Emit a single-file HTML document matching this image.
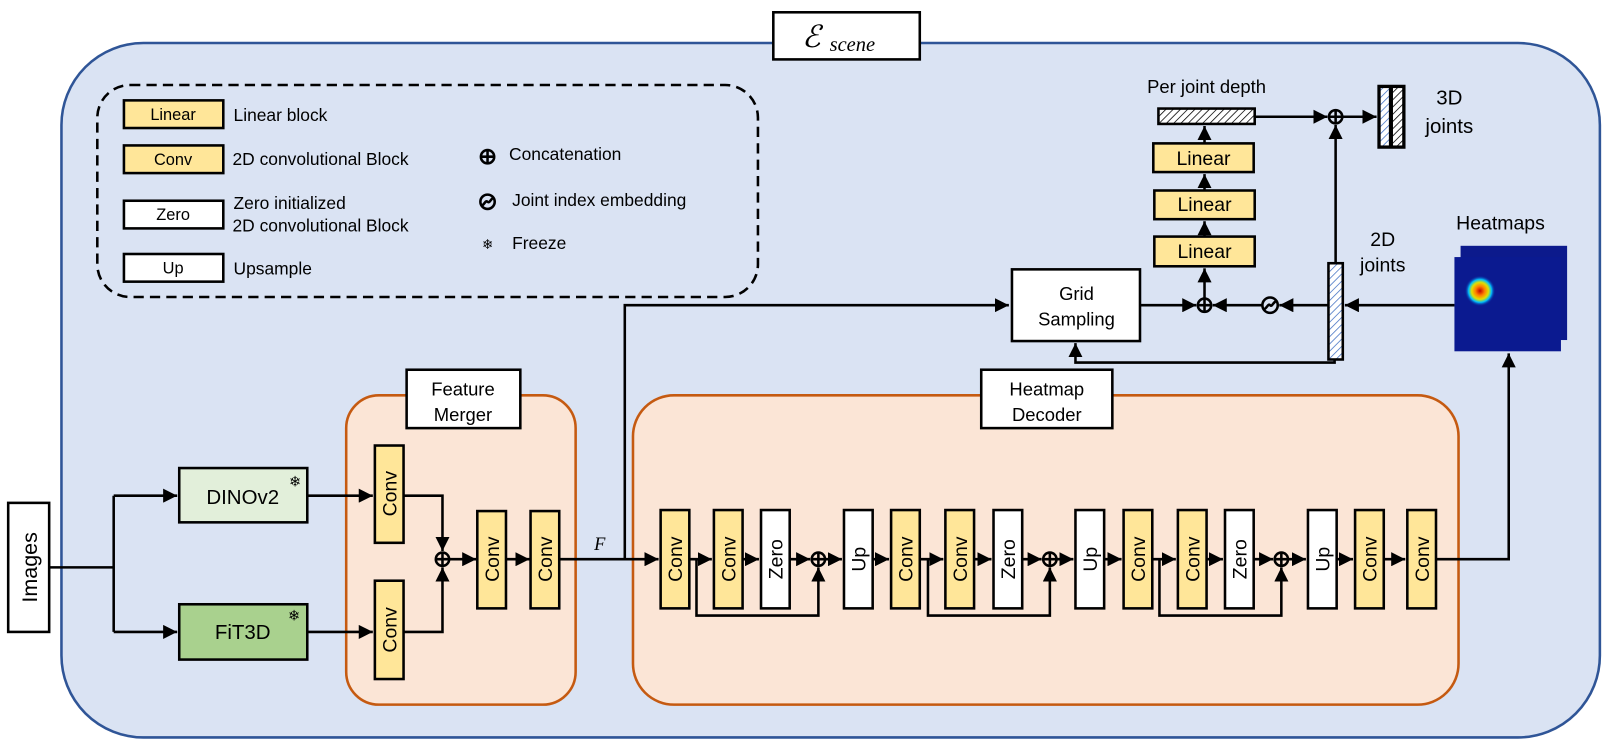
<!DOCTYPE html>
<html><head><meta charset="utf-8"><style>
html,body{margin:0;padding:0;background:#fff;}
svg{display:block;font-family:"Liberation Sans","Noto Sans CJK KR",sans-serif;}
</style></head><body>
<svg width="1605" height="741" viewBox="0 0 1567 723.5" preserveAspectRatio="none" xmlns="http://www.w3.org/2000/svg">
<defs>
<marker id="a" viewBox="0 0 10 10" refX="10" refY="5" markerWidth="5.5" markerHeight="5.5" orient="auto" markerUnits="strokeWidth"><path d="M0,0L10,5L0,10z" fill="#000"/></marker>
<pattern id="hb" width="5" height="5" patternUnits="userSpaceOnUse" patternTransform="rotate(45)"><rect width="5" height="5" fill="#fff"/><line x1="0" y1="0" x2="0" y2="5" stroke="#4472c4" stroke-width="1.5"/></pattern>
<pattern id="hk" width="5" height="5" patternUnits="userSpaceOnUse" patternTransform="rotate(45)"><rect width="5" height="5" fill="#fff"/><line x1="0" y1="0" x2="0" y2="5" stroke="#000" stroke-width="1.5"/></pattern>
<radialGradient id="hg"><stop offset="0" stop-color="#c00000"/><stop offset="0.3" stop-color="#ff8000"/><stop offset="0.55" stop-color="#e0e000"/><stop offset="0.75" stop-color="#00c0ff"/><stop offset="1" stop-color="#0a1a9a" stop-opacity="0"/></radialGradient>
</defs>
<rect width="1567" height="724" fill="#fff"/>
<rect x="60" y="42" width="1502" height="678" rx="80" fill="#dae3f3" stroke="#2f5597" stroke-width="2.5"/>
<rect x="755" y="12" width="143" height="46" fill="#fff" stroke="#000" stroke-width="2.5"/>
<text x="783" y="46" font-family="Liberation Serif,serif" font-style="italic" font-size="30">ℰ</text>
<text x="810" y="50" font-family="Liberation Serif,serif" font-style="italic" font-size="20">scene</text>

<!-- legend -->
<rect x="95" y="83" width="645" height="207" rx="32" fill="none" stroke="#000" stroke-width="2.5" stroke-dasharray="10,6"/>
<g stroke="#000" stroke-width="2.5">
<rect x="121" y="98" width="97" height="27" fill="#ffe699"/>
<rect x="121" y="142" width="97" height="27" fill="#ffe699"/>
<rect x="121" y="196" width="97" height="27" fill="#fff"/>
<rect x="121" y="248" width="97" height="27" fill="#fff"/>
</g>
<g font-size="16" text-anchor="middle"><text x="169" y="117">Linear</text><text x="169" y="161">Conv</text><text x="169" y="215">Zero</text><text x="169" y="267">Up</text></g>
<g font-size="17"><text x="228" y="118">Linear block</text><text x="227" y="161">2D convolutional Block</text><text x="228" y="204">Zero initialized</text><text x="227" y="226">2D convolutional Block</text><text x="228" y="268">Upsample</text>
<text x="497" y="156">Concatenation</text><text x="500" y="201">Joint index embedding</text><text x="500" y="243">Freeze</text></g>
<g stroke="#000" stroke-width="2.5" fill="none"><circle cx="476" cy="153" r="6.5"/><path d="M469.5,153h13M476,146.5v13"/><circle cx="476" cy="197" r="7"/><path d="M470,201c3,-1 4,-6 6,-4s3,-3 6,-4"/></g>
<text x="476" y="243" font-size="13" text-anchor="middle">❄</text>

<!-- images -->
<rect x="8" y="491" width="40" height="126" fill="#fff" stroke="#000" stroke-width="2.5"/>
<text transform="translate(36,554) rotate(-90)" font-size="21" text-anchor="middle">Images</text>
<g stroke="#000" stroke-width="2.5" fill="none">
<path d="M48,554H111M111,484V617"/>
<path d="M111,484H173" marker-end="url(#a)"/><path d="M111,617H173" marker-end="url(#a)"/>
</g>
<rect x="175" y="457" width="125" height="53" fill="#e2efda" stroke="#000" stroke-width="2.5"/>
<rect x="175" y="590" width="125" height="54" fill="#a9d18e" stroke="#000" stroke-width="2.5"/>
<text x="237" y="492" font-size="20" text-anchor="middle">DINOv2</text>
<text x="237" y="624" font-size="20" text-anchor="middle">FiT3D</text>
<text x="288" y="475" font-size="14" text-anchor="middle">❄</text><text x="287" y="606" font-size="14" text-anchor="middle">❄</text>

<!-- feature merger -->
<rect x="338" y="386" width="224" height="302" rx="32" fill="#fbe5d6" stroke="#c55a11" stroke-width="2.5"/>
<rect x="397" y="361" width="111" height="57" fill="#fff" stroke="#000" stroke-width="2.5"/>
<text x="452" y="386" font-size="18" text-anchor="middle">Feature</text><text x="452" y="411" font-size="18" text-anchor="middle">Merger</text>
<!-- heatmap decoder -->
<rect x="618" y="386" width="806" height="302" rx="40" fill="#fbe5d6" stroke="#c55a11" stroke-width="2.5"/>
<rect x="958" y="361" width="128" height="57" fill="#fff" stroke="#000" stroke-width="2.5"/>
<text x="1022" y="386" font-size="18" text-anchor="middle">Heatmap</text><text x="1022" y="411" font-size="18" text-anchor="middle">Decoder</text>

<g stroke="#000" stroke-width="2.5" fill="none">
<path d="M300,484H364" marker-end="url(#a)"/><path d="M300,617H364" marker-end="url(#a)"/>
<path d="M394,484H432V538" marker-end="url(#a)"/><path d="M394,617H432V554" marker-end="url(#a)"/>
<path d="M438,546H465" marker-end="url(#a)"/><path d="M494,546H517" marker-end="url(#a)"/>
<path d="M546,546H643" marker-end="url(#a)"/>
<path d="M610,546V298H985" marker-end="url(#a)"/>
<circle cx="432" cy="546" r="6.5"/><path d="M425.5,546h13M432,539.5v13"/>
</g>
<text x="580" y="537" font-family="Liberation Serif,serif" font-style="italic" font-size="18">F</text>

<!-- vertical blocks -->
<g stroke="#000" stroke-width="2.5">
<rect x="366" y="435" width="28" height="95" fill="#ffe699"/>
<rect x="366" y="567" width="28" height="96" fill="#ffe699"/>
<rect x="466" y="499" width="28" height="95" fill="#ffe699"/>
<rect x="518" y="499" width="28" height="95" fill="#ffe699"/>
<rect x="645" y="498" width="28" height="96" fill="#ffe699"/>
<rect x="697" y="498" width="28" height="96" fill="#ffe699"/>
<rect x="743" y="498" width="28" height="96" fill="#fff"/>
<rect x="824" y="498" width="28" height="96" fill="#fff"/>
<rect x="870" y="498" width="28" height="96" fill="#ffe699"/>
<rect x="923" y="498" width="28" height="96" fill="#ffe699"/>
<rect x="970" y="498" width="28" height="96" fill="#fff"/>
<rect x="1050" y="498" width="28" height="96" fill="#fff"/>
<rect x="1097" y="498" width="28" height="96" fill="#ffe699"/>
<rect x="1150" y="498" width="28" height="96" fill="#ffe699"/>
<rect x="1196" y="498" width="28" height="96" fill="#fff"/>
<rect x="1277" y="498" width="28" height="96" fill="#fff"/>
<rect x="1323" y="498" width="28" height="96" fill="#ffe699"/>
<rect x="1374" y="498" width="28" height="96" fill="#ffe699"/>
</g>
<g font-size="19" text-anchor="middle">
<text transform="translate(387,482) rotate(-90)">Conv</text>
<text transform="translate(387,615) rotate(-90)">Conv</text>
<text transform="translate(487,546) rotate(-90)">Conv</text>
<text transform="translate(539,546) rotate(-90)">Conv</text>
<text transform="translate(666,546) rotate(-90)">Conv</text>
<text transform="translate(718,546) rotate(-90)">Conv</text>
<text transform="translate(764,546) rotate(-90)">Zero</text>
<text transform="translate(845,546) rotate(-90)">Up</text>
<text transform="translate(891,546) rotate(-90)">Conv</text>
<text transform="translate(944,546) rotate(-90)">Conv</text>
<text transform="translate(991,546) rotate(-90)">Zero</text>
<text transform="translate(1071,546) rotate(-90)">Up</text>
<text transform="translate(1118,546) rotate(-90)">Conv</text>
<text transform="translate(1171,546) rotate(-90)">Conv</text>
<text transform="translate(1217,546) rotate(-90)">Zero</text>
<text transform="translate(1298,546) rotate(-90)">Up</text>
<text transform="translate(1344,546) rotate(-90)">Conv</text>
<text transform="translate(1395,546) rotate(-90)">Conv</text>
</g>
<g stroke="#000" stroke-width="2.5" fill="none">
<path d="M673,546H695" marker-end="url(#a)"/><path d="M725,546H741" marker-end="url(#a)"/><path d="M771,546H791" marker-end="url(#a)"/><path d="M806,546H822" marker-end="url(#a)"/><path d="M852,546H868" marker-end="url(#a)"/>
<path d="M680,546V601H799V554" marker-end="url(#a)"/>
<circle cx="799" cy="546" r="6.5"/><path d="M792.5,546h13M799,539.5v13"/>
<path d="M898,546H921" marker-end="url(#a)"/><path d="M951,546H968" marker-end="url(#a)"/><path d="M998,546H1017" marker-end="url(#a)"/><path d="M1032,546H1048" marker-end="url(#a)"/><path d="M1078,546H1095" marker-end="url(#a)"/>
<path d="M906,546V601H1025V554" marker-end="url(#a)"/>
<circle cx="1025" cy="546" r="6.5"/><path d="M1018.5,546h13M1025,539.5v13"/>
<path d="M1125,546H1148" marker-end="url(#a)"/><path d="M1178,546H1194" marker-end="url(#a)"/><path d="M1224,546H1243" marker-end="url(#a)"/><path d="M1258,546H1275" marker-end="url(#a)"/><path d="M1305,546H1321" marker-end="url(#a)"/><path d="M1351,546H1372" marker-end="url(#a)"/>
<path d="M1132,546V601H1251V554" marker-end="url(#a)"/>
<circle cx="1251" cy="546" r="6.5"/><path d="M1244.5,546h13M1251,539.5v13"/>
<path d="M1402,546H1473V345" marker-end="url(#a)"/>
</g>

<!-- top right -->
<rect x="1426" y="240" width="104" height="92" fill="#0c1a8c"/>
<rect x="1420" y="251" width="104" height="92" fill="#0b1a90"/>
<circle cx="1445" cy="284" r="15" fill="url(#hg)"/>
<text x="1465" y="224" font-size="19" text-anchor="middle">Heatmaps</text>
<rect x="988" y="263" width="125" height="70" fill="#fff" stroke="#000" stroke-width="2.5"/>
<text x="1051" y="293" font-size="18" text-anchor="middle">Grid</text><text x="1051" y="318" font-size="18" text-anchor="middle">Sampling</text>
<rect x="1297" y="257" width="14" height="94" fill="url(#hb)" stroke="#000" stroke-width="2.5"/>
<text x="1350" y="240" font-size="19" text-anchor="middle">2D</text><text x="1350" y="265" font-size="19" text-anchor="middle">joints</text>
<g stroke="#000" stroke-width="2.5">
<rect x="1127" y="231" width="98" height="29" fill="#ffe699"/>
<rect x="1127" y="186" width="98" height="28" fill="#ffe699"/>
<rect x="1126" y="140" width="98" height="28" fill="#ffe699"/>
<rect x="1131" y="106" width="94" height="15" fill="url(#hk)"/>
<rect x="1346" y="84" width="25" height="60" fill="#000"/>
<rect x="1348" y="86" width="8" height="56" fill="url(#hb)" stroke="none"/>
<rect x="1360" y="86" width="9" height="56" fill="url(#hk)" stroke="none"/>
</g>
<g font-size="19" text-anchor="middle"><text x="1176" y="252">Linear</text><text x="1176" y="206">Linear</text><text x="1175" y="161">Linear</text></g>
<text x="1178" y="91" font-size="18" text-anchor="middle">Per joint depth</text>
<text x="1415" y="102" font-size="20" text-anchor="middle">3D</text><text x="1415" y="130" font-size="20" text-anchor="middle">joints</text>
<g stroke="#000" stroke-width="2.5" fill="none">
<path d="M1420,298H1313" marker-end="url(#a)"/>
<path d="M1297,298H1249" marker-end="url(#a)"/>
<path d="M1232,298H1184" marker-end="url(#a)"/>
<path d="M1113,298H1168" marker-end="url(#a)"/>
<circle cx="1176" cy="298" r="6.5"/><path d="M1169.5,298h13M1176,291.5v13"/>
<circle cx="1240" cy="298" r="7.5"/><path d="M1234,302c3,-1 4,-6 6,-4s3,-3 6,-4"/>
<path d="M1176,291V262" marker-end="url(#a)"/><path d="M1176,231V216" marker-end="url(#a)"/><path d="M1176,186V170" marker-end="url(#a)"/><path d="M1176,140V123" marker-end="url(#a)"/>
<path d="M1303,351V354H1050V335" marker-end="url(#a)"/>
<path d="M1225,114H1296" marker-end="url(#a)"/>
<path d="M1304,256V122" marker-end="url(#a)"/>
<circle cx="1304" cy="114" r="6.5"/><path d="M1297.5,114h13M1304,107.5v13"/>
<path d="M1311,114H1344" marker-end="url(#a)"/>
</g>
</svg>
</body></html>
